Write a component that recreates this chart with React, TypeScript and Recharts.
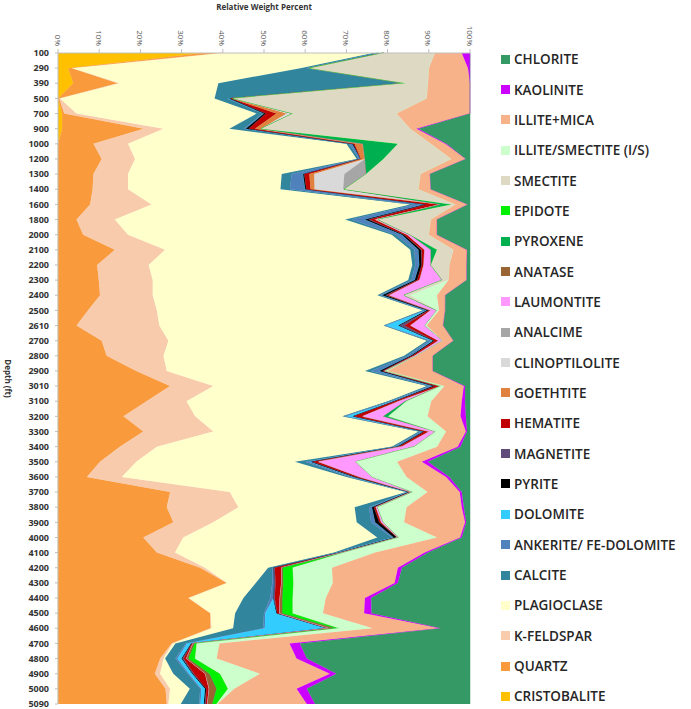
import { AreaChart, Area, XAxis, YAxis, Legend } from 'recharts';

// Sample depths (ft), top to bottom
const DEPTHS = [
  100, 290, 390, 500, 700, 900, 1000, 1200, 1300, 1400, 1600,
  1800, 2000, 2100, 2200, 2300, 2400, 2500, 2610, 2700, 2800, 2900,
  3010, 3100, 3200, 3300, 3400, 3500, 3600, 3700, 3800, 3900, 4000,
  4100, 4200, 4300, 4400, 4500, 4600, 4700, 4800, 4900, 5000, 5090,
];

// Mineral weight percent per depth (same order as DEPTHS)
const CRISTOBALITE = [
  35, 2.5, 3.7, 0, 1, 1, 0, 0, 0, 0, 0,
  0, 0, 0, 0, 0, 0, 0, 0, 0, 0, 0,
  0, 0, 0, 0, 0, 0, 0, 0, 0, 0, 0,
  0, 0, 0, 0, 0, 0, 0, 0, 0, 0, 0,
];
const QUARTZ = [
  5, 1, 10.8, 0.3, 0.5, 19.8, 8.6, 10.6, 8.6, 8.4, 7.8,
  4.5, 6.1, 13.8, 9.5, 9.9, 10.2, 7.3, 4.5, 10.6, 11.8, 19,
  27.2, 21.5, 15.9, 20.7, 15, 10.2, 7, 27.2, 26.4, 28, 20.7,
  24, 34.5, 41, 31.6, 37, 37, 27.6, 24.8, 23.5, 26.1, 26.4,
];
const K_FELDSPAR = [
  0, 0, 0.5, 0.2, 3, 4.8, 8.4, 8.1, 8.4, 8.6, 14.9,
  9.3, 10.9, 12.2, 12.5, 13.1, 12.8, 16.7, 20.1, 16.2, 13.8, 7.4,
  10.5, 9.7, 17.4, 17, 9, 8.8, 8.5, 14.5, 17.4, 9.7, 9.7,
  4.4, 1.2, 0, 0.2, 0, 0.3, 0.2, 0.8, 1.3, 1.1, 0.4,
];
const PLAGIOCLASE = [
  36.5, 55.5, 24, 37.5, 43.7, 16, 53, 53.8, 37.3, 37, 62.8,
  55.9, 64, 59.5, 64, 62, 54.5, 64.5, 54.4, 62.7, 58.4, 48.1,
  51.8, 48.8, 35.7, 49.8, 57, 38.5, 54.5, 42.8, 28.2, 34.8, 47.1,
  38.6, 15.3, 7, 13.2, 6, 5.2, 0.7, 0.4, 3.2, 4.8, 3,
];
const CALCITE = [
  1, 1.5, 45, 3, 1.5, 3.5, 0.7, 0.5, 2.4, 2.3, 1,
  1.5, 1, 1, 0.7, 0.8, 0.6, 0.5, 0.3, 0.5, 0.8, 1.5,
  0.7, 0.6, 0.5, 0.5, 0.6, 2.5, 0.8, 0.3, 3.5, 3.5, 3.5,
  0.8, 1, 4, 6.5, 7, 7.3, 2.5, 2.5, 3.5, 2.5, 4.5,
];
const ANKERITE = [
  0.5, 0.5, 0.3, 0.5, 0.3, 0.5, 0.7, 0.5, 2.8, 3.7, 2.5,
  3.3, 1.5, 1, 1, 0.8, 0.6, 0.5, 0.3, 0.7, 0.8, 2,
  0.8, 0.6, 0.5, 0.7, 0.7, 1, 0.8, 0.3, 0.7, 1, 0.5,
  0.5, 0.3, 0.5, 0.8, 0.3, 0.4, 0.3, 0.5, 0.3, 0.3, 0.3,
];
const DOLOMITE = [
  0, 0, 0, 0, 0, 0, 0, 0, 0, 0, 0,
  0, 0, 0, 0, 0, 0, 0, 3, 0.3, 0, 0,
  0, 0.3, 1.5, 0, 0, 0.3, 0.2, 0, 0, 0, 0,
  0, 0, 0, 0, 2.7, 15, 1, 1, 0.8, 0.9, 0.8,
];
const PYRITE = [
  1, 0.3, 0.2, 0.5, 0.5, 0.7, 0.3, 0, 0.3, 0.3, 0.5,
  0.8, 0.5, 0.6, 0.6, 0.6, 0.8, 0.5, 0.3, 0.4, 0.4, 0.8,
  0.6, 0.3, 0.3, 0.3, 0.4, 0.5, 0.5, 0.4, 0.5, 1, 0.8,
  0.3, 0, 0, 0, 0.2, 0.3, 0.2, 0.2, 0.2, 0.3, 0.2,
];
const MAGNETITE = [
  0, 0, 0, 0, 0, 0, 0, 0, 0, 0, 0,
  0.3, 0, 0.2, 0, 0, 0.3, 0, 1.2, 0, 0, 0,
  0, 0, 0, 0, 0, 0, 0, 0, 0, 0, 0,
  0, 0.3, 0.3, 0.3, 0, 0, 0, 0.3, 0.2, 0, 0.3,
];
const HEMATITE = [
  0, 0, 0, 0, 2.5, 1.5, 0.3, 0, 1.2, 1, 3,
  1.2, 0.8, 0.7, 0.5, 0.6, 0.7, 0.5, 1.5, 1, 0.6, 0.5,
  1.4, 1, 2.2, 1.2, 0.8, 1.5, 1, 0.3, 0.5, 0.5, 0.2,
  0.4, 1.7, 1.5, 1.3, 0.6, 0.5, 0.3, 0.7, 2.8, 0.7, 0.4,
];
const GOETHTITE = [
  0, 0, 0, 0.5, 2.5, 1.5, 2, 1, 1.2, 1, 0.5,
  0.4, 0, 0, 0, 0, 0, 0, 0, 0, 0, 0,
  0, 0, 0, 0, 0, 0, 0, 0, 0, 0, 0,
  0, 0, 0, 0, 0, 0, 0, 0, 0, 0, 0,
];
const CLINOPTILOLITE = [
  0, 0, 0, 0, 1.5, 0, 0, 0, 7.3, 6.9, 0,
  0, 0, 0, 0, 0, 0, 0, 0, 0, 0, 0,
  0, 0, 0, 0, 0, 0, 0, 0, 0, 0, 0,
  0, 0, 0, 0, 0, 0, 0, 0, 0, 0, 0,
];
const ANALCIME = [
  0, 0, 0, 0, 0, 0, 0, 0, 5.3, 0.3, 0,
  0, 0, 0, 0, 0, 0, 0, 0, 0, 0, 0,
  0, 0, 0, 0, 0, 0, 0, 0, 0, 0, 0,
  0, 0, 0, 0, 0, 0, 0, 0, 0, 0, 0,
];
const LAUMONTITE = [
  0, 0, 0, 0, 0, 0, 0, 0, 0, 0, 0,
  0.5, 0.7, 1.5, 1.7, 5.5, 3.5, 1.5, 3.5, 1, 0.5, 0.3,
  0, 1.5, 5, 1.5, 3, 9, 3, 0.4, 0.4, 0.5, 0.3,
  0.5, 0, 0, 0, 0, 0, 0, 0, 0, 0, 0,
];
const ANATASE = [
  0, 0, 0, 0, 0, 0, 0, 0, 0, 0, 0,
  0, 0, 0, 0, 0, 0, 0, 0, 0, 0, 0,
  0, 0, 0, 0, 0, 0, 0, 0, 0, 0, 0,
  0, 0.3, 0.4, 0.6, 0.7, 1.5, 0.4, 0.5, 1, 1.8, 1.2,
];
const PYROXENE = [
  0, 0, 0, 0, 0, 0, 8.5, 4.5, 0, 0, 2.5,
  0, 0, 1.5, 0, 0, 0, 0, 0, 0, 0, 0,
  0, 0.3, 1.2, 0, 0, 0, 0, 0, 0, 0, 0,
  0, 0, 0, 0, 0, 0, 0, 0, 0, 0, 0,
];
const EPIDOTE = [
  0, 0, 0, 0, 0, 0, 0, 0, 0, 0, 0,
  0, 0, 0, 0, 0, 0, 0, 0, 0, 0, 0,
  0, 0, 0, 0, 0, 0, 0, 0, 0, 0, 0,
  0, 2.4, 2.5, 2.5, 2.5, 0.9, 0.5, 1.6, 2.6, 2.8, 1,
];
const SMECTITE = [
  12.5, 29, 5.5, 47, 25.2, 36.2, 8, 16.5, 13.2, 18, 1,
  12.8, 4.5, 4, 4.5, 1.5, 1.5, 0, 0, 0, 0, 0,
  0, 0, 0, 0, 0, 0, 0, 0, 0, 0, 0,
  0, 0, 0, 0, 0, 0, 0, 0, 0, 0, 0,
];
const ILLITE_SMECTITE = [
  0, 0, 0, 0, 0, 0, 0, 0, 0, 0, 0,
  0, 0, 0, 0, 0, 6.5, 0.5, 0.4, 0, 0, 0.4,
  0.8, 6, 9.5, 2.5, 5.5, 10, 8.3, 3.5, 7, 5, 9.2,
  7.5, 9.5, 9.5, 8, 7.3, 8, 5.5, 5.2, 9.6, 1.5, 0.2,
];
const ILLITE_MICA = [
  6.5, 9.5, 10.2, 10.5, 17.8, 1.5, 3.5, 3.5, 2.3, 3, 3,
  1.5, 2, 3.3, 4.2, 4.4, 2, 1.5, 4, 2.6, 3.9, 11,
  4.7, 7.4, 8, 4.8, 5, 6, 9.6, 7.8, 13.4, 14.8, 5.6,
  12, 16, 15, 9.5, 10, 16.3, 17, 19.4, 17, 15.1, 21.7,
];
const KAOLINITE = [
  2, 0.5, 0, 0, 0, 0.5, 0.3, 0, 0, 0, 0,
  0, 0, 0, 0, 0, 0, 0, 0, 0, 0, 0,
  0.3, 0.8, 1.3, 0.3, 0.7, 1.5, 0.8, 0.5, 0.5, 0.3, 0.4,
  0.8, 1, 0.8, 1.5, 1.8, 0.3, 2.5, 2.5, 1.6, 2.5, 2,
];
const CHLORITE = [
  0, 0, 0, 0, 0, 12.5, 5.7, 1, 9.7, 9.5, 0.5,
  8, 8, 0.7, 0.8, 0.8, 6, 6, 6.5, 4, 9, 9,
  1.2, 1.2, 1, 0.7, 2.3, 10.2, 5, 2, 1.5, 0.9, 2,
  10.2, 16.5, 17.5, 24, 23.9, 7, 41.3, 39.6, 32.4, 39.6, 37.6,
];

const PCT_TICKS = [0, 0.1, 0.2, 0.3, 0.4, 0.5, 0.6, 0.7, 0.8, 0.9, 1];

// stacking order: first entry sits at 0%, last one ends at 100%
const SERIES = [
  { key: 'cristobalite', name: 'CRISTOBALITE', color: '#FFC000', values: CRISTOBALITE },
  { key: 'quartz', name: 'QUARTZ', color: '#F99A3C', values: QUARTZ },
  { key: 'kfeldspar', name: 'K-FELDSPAR', color: '#F8CBAD', values: K_FELDSPAR },
  { key: 'plagioclase', name: 'PLAGIOCLASE', color: '#FFFFCC', values: PLAGIOCLASE },
  { key: 'calcite', name: 'CALCITE', color: '#31859C', values: CALCITE },
  { key: 'ankerite', name: 'ANKERITE/ FE-DOLOMITE', color: '#4F81BD', values: ANKERITE },
  { key: 'dolomite', name: 'DOLOMITE', color: '#33CCFF', values: DOLOMITE },
  { key: 'pyrite', name: 'PYRITE', color: '#000000', values: PYRITE },
  { key: 'magnetite', name: 'MAGNETITE', color: '#604A7B', values: MAGNETITE },
  { key: 'hematite', name: 'HEMATITE', color: '#C00000', values: HEMATITE },
  { key: 'goethtite', name: 'GOETHTITE', color: '#E0823D', values: GOETHTITE },
  { key: 'clinoptilolite', name: 'CLINOPTILOLITE', color: '#D9D9D9', values: CLINOPTILOLITE },
  { key: 'analcime', name: 'ANALCIME', color: '#A6A6A6', values: ANALCIME },
  { key: 'laumontite', name: 'LAUMONTITE', color: '#FF99FF', values: LAUMONTITE },
  { key: 'anatase', name: 'ANATASE', color: '#996633', values: ANATASE },
  { key: 'pyroxene', name: 'PYROXENE', color: '#00B050', values: PYROXENE },
  { key: 'epidote', name: 'EPIDOTE', color: '#00F000', values: EPIDOTE },
  { key: 'smectite', name: 'SMECTITE', color: '#DDD9C3', values: SMECTITE },
  { key: 'illiteSmectite', name: 'ILLITE/SMECTITE (I/S)', color: '#CCFFCC', values: ILLITE_SMECTITE },
  { key: 'illiteMica', name: 'ILLITE+MICA', color: '#F7B28A', values: ILLITE_MICA },
  { key: 'kaolinite', name: 'KAOLINITE', color: '#CC00FF', values: KAOLINITE },
  { key: 'chlorite', name: 'CHLORITE', color: '#359966', values: CHLORITE },
];

const data = DEPTHS.map((depth, i) => {
  const row: Record<string, string | number> = { depth: String(depth) };
  SERIES.forEach(s => {
    row[s.key] = s.values[i];
  });
  return row;
});

// percent labels at the top, turned to read downwards
function PercentTick({ x, y, payload }: any) {
  return (
    <text
      x={x}
      y={y}
      transform={`rotate(90 ${x} ${y})`}
      textAnchor="end"
      dominantBaseline="central"
      fontSize={8}
      fontFamily="Open Sans"
      fill="#595959"
    >
      {Math.round(payload.value * 100)}%
    </text>
  );
}

function MineralLegend() {
  return (
    <div style={{ display: 'flex', flexDirection: 'column' }}>
      {[...SERIES].reverse().map(s => (
        <div key={s.key} style={{ height: 30.35, display: 'flex', alignItems: 'center' }}>
          <span style={{ width: 9, height: 9, background: s.color, marginRight: 4, flexShrink: 0 }} />
          <span
            style={{
              fontFamily: 'Open Sans',
              fontSize: 13.5,
              fontWeight: 600,
              color: '#262626',
              whiteSpace: 'nowrap',
            }}
          >
            {s.name}
          </span>
        </div>
      ))}
    </div>
  );
}

export default function App() {
  return (
    <div style={{ position: 'absolute', left: 0, top: 0, width: 691, height: 709, background: '#fff' }}>
      <AreaChart
        width={691}
        height={709}
        data={data}
        layout="vertical"
        stackOffset="expand"
        margin={{ top: 0, right: 221, bottom: 5, left: 0 }}
      >
        <XAxis
          type="number"
          orientation="top"
          domain={[0, 1]}
          ticks={PCT_TICKS}
          height={53}
          tick={<PercentTick />}
          tickSize={4}
          tickMargin={3}
          stroke="#BFBFBF"
          label={{
            value: 'Relative Weight  Percent',
            position: 'insideTop',
            offset: 4,
            style: { fontFamily: 'Open Sans', fontSize: 8, fontWeight: 'bold', fill: '#333' },
          }}
        />
        <YAxis
          type="category"
          dataKey="depth"
          scale="point"
          width={58}
          interval={0}
          tickSize={3}
          tickMargin={6}
          stroke="#BFBFBF"
          tick={{ fontFamily: 'Open Sans', fontSize: 9, fontWeight: 'bold', fill: '#333' }}
          label={{
            value: 'Depth (ft)',
            angle: 90,
            position: 'insideLeft',
            offset: 8,
            style: { textAnchor: 'middle', fontFamily: 'Open Sans', fontSize: 8, fontWeight: 'bold', fill: '#333' },
          }}
        />
        {SERIES.map(s => (
          <Area
            key={s.key}
            dataKey={s.key}
            name={s.name}
            stackId="minerals"
            type="linear"
            fill={s.color}
            fillOpacity={1}
            stroke={s.color}
            strokeWidth={0.5}
            isAnimationActive={false}
          />
        ))}
        <Legend
          layout="vertical"
          align="center"
          verticalAlign="middle"
          content={<MineralLegend />}
          wrapperStyle={{ left: 501, top: 44, width: 190 }}
        />
      </AreaChart>
    </div>
  );
}
